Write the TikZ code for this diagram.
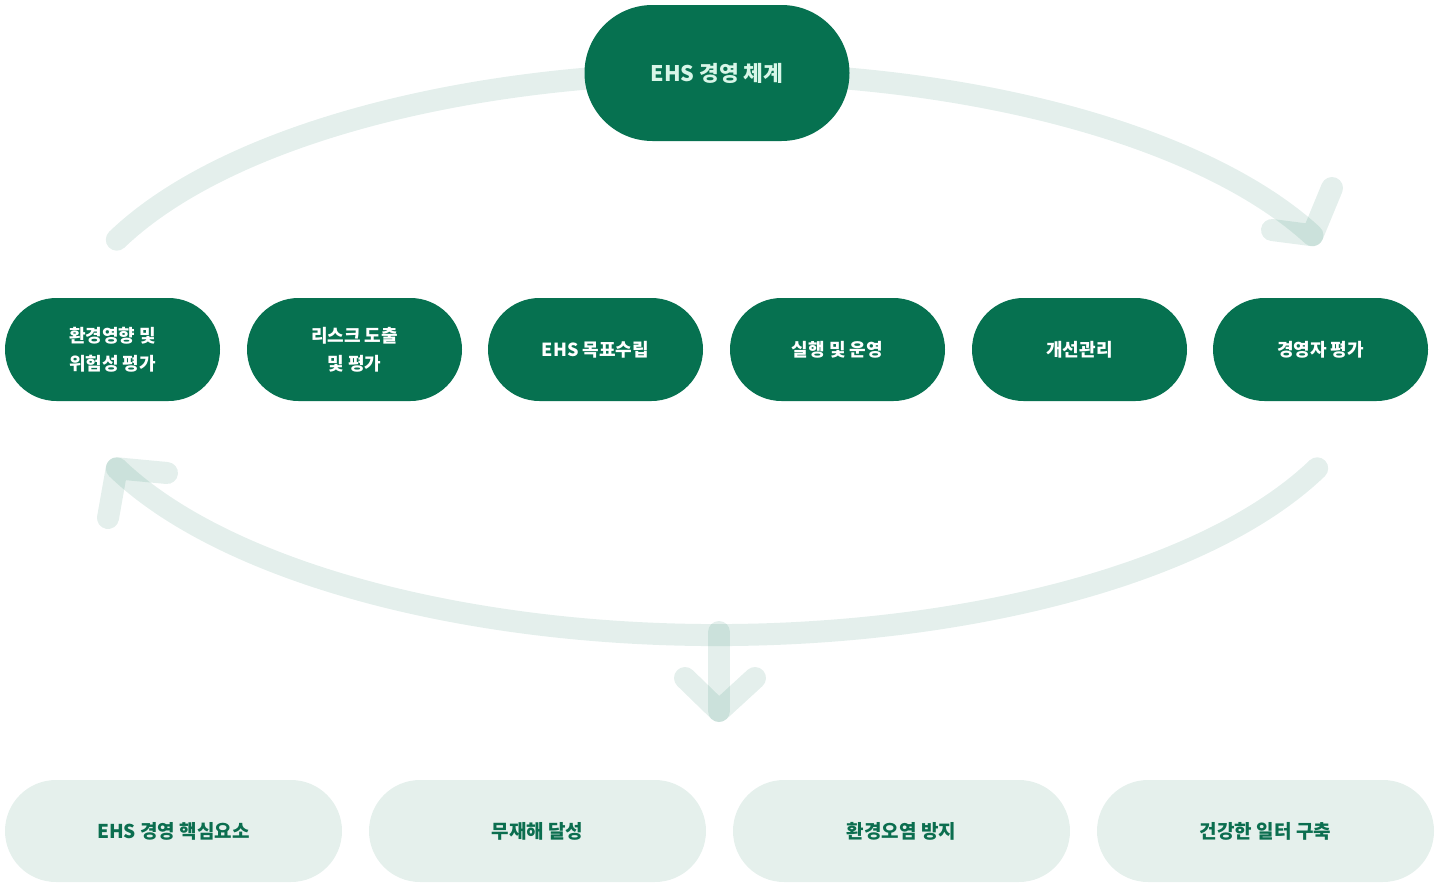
\documentclass[tikz,border=0pt]{standalone}
\usepackage{fontspec}
\newfontfamily\kr{Noto Sans CJK KR}
\usetikzlibrary{calc}
\definecolor{dgreen}{HTML}{067150}
\definecolor{lgreen}{HTML}{E5F0EC}
\definecolor{mint}{HTML}{D8F6E8}
\definecolor{btext}{HTML}{0B6E4F}
\tikzset{
  band/.style={draw=dgreen, draw opacity=0.11, line width=22pt, line cap=round, line join=round},
  topbox/.style={rectangle, rounded corners=68pt, fill=dgreen, minimum width=265pt, minimum height=136pt, text=mint, font=\kr\bfseries\fontsize{21.5}{26}\selectfont, inner sep=0pt},
  midbox/.style={rectangle, rounded corners=51.5pt, fill=dgreen, minimum width=215pt, minimum height=103pt, text=white, align=center, font=\kr\bfseries\fontsize{18}{28}\selectfont, inner sep=0pt},
  botbox/.style={rectangle, rounded corners=51pt, fill=lgreen, minimum width=337pt, minimum height=102pt, text=btext, font=\kr\bfseries\fontsize{19}{24}\selectfont, inner sep=0pt}
}
\begin{document}
\begin{tikzpicture}[x=1pt, y=-1pt]
\useasboundingbox (0,0) rectangle (1444,884);
% cycle arcs
\coordinate (c) at (717,354);
\draw[band] (c) ++(156:657pt and 281pt) coordinate (us) arc[start angle=156, end angle=25, x radius=657pt, y radius=281pt] coordinate (ue);
\draw[band] (1332,188) -- (ue) -- (1272,230);
\draw[band] (c) ++(-24:657pt and 281pt) coordinate (ls) arc[start angle=-24, end angle=-156, x radius=657pt, y radius=281pt] coordinate (le);
\draw[band] (108,518) -- (le) -- (167,473);
% down arrow
\coordinate (dtop) at (719,632);
\coordinate (dtip) at (719,711);
\draw[band] (dtop) -- (dtip);
\draw[band] (685,678) -- (dtip) -- (755,678);
% nodes
\node[topbox] (top) at (717,73) {EHS 경영 체계};
\node[midbox] (m1) at (112.5,349.5) {환경영향 및\\위험성 평가};
\node[midbox] (m2) at (354.5,349.5) {리스크 도출\\및 평가};
\node[midbox] (m3) at (595.5,349.5) {EHS 목표수립};
\node[midbox] (m4) at (837.5,349.5) {실행 및 운영};
\node[midbox] (m5) at (1079.5,349.5) {개선관리};
\node[midbox] (m6) at (1320.5,349.5) {경영자 평가};
\node[botbox] (b1) at (173.5,831) {EHS 경영 핵심요소};
\node[botbox] (b2) at (537.5,831) {무재해 달성};
\node[botbox] (b3) at (901.5,831) {환경오염 방지};
\node[botbox] (b4) at (1265.5,831) {건강한 일터 구축};
\end{tikzpicture}
\end{document}
